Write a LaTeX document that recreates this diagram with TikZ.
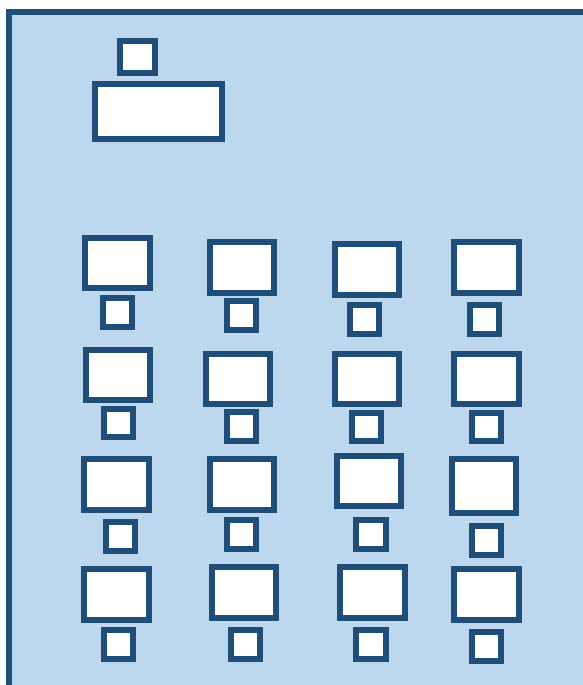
\documentclass[tikz,border=0pt]{standalone}
\definecolor{roomfill}{HTML}{BDD7EE}
\definecolor{edge}{HTML}{1F4E79}
\begin{document}
\begin{tikzpicture}[x=1pt,y=-1pt,
  furn/.style={draw=edge,fill=white,line width=6pt},
  room/.style={draw=edge,fill=roomfill,line width=6pt}]
\useasboundingbox (0,0) rectangle (583,685);
\begin{scope}
\clip (0,0) rectangle (583,685);
\draw[room] (9,12.5) rectangle (600,700);
\end{scope}
% teacher
\draw[furn] (120.3,41.3) rectangle (155.3,72.7);
\draw[furn] (95.3,84.3) rectangle (222.3,139);
% row 1
\draw[furn] (85.3,237.7) rectangle (150,288);
\draw[furn] (103,298.3) rectangle (132,327);
\draw[furn] (209.7,242) rectangle (274,292.7);
\draw[furn] (227,300.7) rectangle (256,329.7);
\draw[furn] (335,244) rectangle (399.3,294.7);
\draw[furn] (350.3,304.7) rectangle (379.3,333.7);
\draw[furn] (454.3,242) rectangle (518.7,292.7);
\draw[furn] (470,304.7) rectangle (499,333.7);
% row 2
\draw[furn] (86,349.7) rectangle (150.3,400);
\draw[furn] (103.7,408.7) rectangle (132.7,437.3);
\draw[furn] (205.7,353.7) rectangle (270,404.3);
\draw[furn] (227,412.3) rectangle (256,441.3);
\draw[furn] (335,353.7) rectangle (399.3,404.3);
\draw[furn] (352.3,412.7) rectangle (381.3,441.3);
\draw[furn] (454.3,353.7) rectangle (518.7,404.3);
\draw[furn] (472,412.7) rectangle (501,441.3);
% row 3
\draw[furn] (84,459.3) rectangle (148.7,510);
\draw[furn] (105.7,522.3) rectangle (134.7,551.3);
\draw[furn] (209.7,459.3) rectangle (274,510);
\draw[furn] (227,520.3) rectangle (256,549.3);
\draw[furn] (336.7,455.7) rectangle (401.3,506.3);
\draw[furn] (356.3,520.3) rectangle (385.7,549.3);
\draw[furn] (452,458.7) rectangle (516.3,513.3);
\draw[furn] (472,526.3) rectangle (501,555.3);
% row 4
\draw[furn] (84,569.3) rectangle (148.7,619.7);
\draw[furn] (103.7,630) rectangle (132.7,659);
\draw[furn] (211.7,567.3) rectangle (276,618);
\draw[furn] (231,630) rectangle (260,659);
\draw[furn] (340,567.3) rectangle (404.7,618);
\draw[furn] (356.3,630) rectangle (385.7,659);
\draw[furn] (454.3,569.3) rectangle (518.7,620);
\draw[furn] (472,632) rectangle (501,661);
\end{tikzpicture}
\end{document}
